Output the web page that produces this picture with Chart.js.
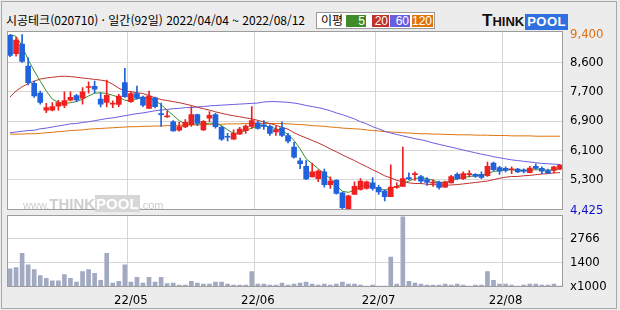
<!DOCTYPE html>
<html lang="ko">
<head>
<meta charset="utf-8">
<title>시공테크 일간 차트</title>
<script src="https://cdn.jsdelivr.net/npm/chart.js@4.4.0/dist/chart.umd.min.js"></script>
<style>
body { margin: 0; }
#wrap { position: relative; width: 620px; height: 310px; background: #ececec; overflow: hidden; font-family: "Noto Sans CJK KR", sans-serif; }
#frame { position: absolute; left: 1px; top: 1px; width: 614px; height: 306px; border: 1px solid #a8a8a8; }
#title { position: absolute; left: 6px; top: 11px; font-size: 12px; line-height: 18px; color: #000; white-space: nowrap; }
#legend { position: absolute; left: 316px; top: 12px; width: 117px; height: 15px; border: 1px solid #9a9a9a; background: #fff; }
#legend .lbl { position: absolute; left: 4px; top: -2px; font-size: 12px; line-height: 18px; }
#legend .ma { position: absolute; top: 2px; height: 12px; color: #fff; font: 12px/12px "Liberation Sans", sans-serif; text-align: right; padding-right: 1px; box-sizing: border-box; }
#logo { position: absolute; left: 482px; top: 12px; height: 17px; font-family: "Liberation Sans", sans-serif; font-weight: bold; white-space: nowrap; }
#logo .t { font-size: 17px; line-height: 17px; color: #111; }
#logo .h { font-size: 13px; line-height: 17px; color: #111; }
#logo .p { display: inline-block; background: #2f6fe0; color: #fff; font-size: 13px; line-height: 14px; padding: 1px 2px; margin-left: 1px; letter-spacing: 0.5px; }
#wm { position: absolute; left: 23px; top: 196px; color: #cdcdcd; font-family: "Liberation Sans", sans-serif; white-space: nowrap; line-height: 15px; }
#wm .s { font-size: 11px; }
#wm .b { font-size: 15px; font-weight: bold; }
#wm .p { font-size: 15px; font-weight: bold; color: #fff; background: #d6d6d6; padding: 0 1px; }
canvas { position: absolute; left: 0; }
#price { top: 0; }
#volume { top: 200px; }
</style>
</head>
<body>
<div id="wrap">
    <div id="frame"></div>
    <div id="title">시공테크(020710) · 일간(92일) 2022/04/04 ~ 2022/08/12</div>
    <div id="legend">
        <span class="lbl">이평</span>
        <span class="ma" style="left:29px;width:20px;background:#3d8c27;">5</span>
        <span class="ma" style="left:55px;width:17px;background:#c0322c;">20</span>
        <span class="ma" style="left:73px;width:20px;background:#6a5ee0;">60</span>
        <span class="ma" style="left:95px;width:21px;background:#e0740c;">120</span>
    </div>
    <div id="logo"><span class="t">T</span><span class="h">HINK</span><span class="p">POOL</span></div>
    <canvas id="price" width="620" height="225"></canvas>
    <canvas id="volume" width="620" height="110"></canvas>
    <div id="wm"><span class="s">www.</span><span class="b">THINK</span><span class="p">POOL</span><span class="s">.com</span></div>
</div>
<script>
"use strict";

// trading days 2022/04/04 ~ 2022/08/12
var dates = [
    '04/04', '04/05', '04/06', '04/07', '04/08', '04/11', '04/12', '04/13', '04/14', '04/15',
    '04/18', '04/19', '04/20', '04/21', '04/22', '04/25', '04/26', '04/27', '04/28', '04/29',
    '05/02', '05/03', '05/04', '05/06', '05/09', '05/10', '05/11', '05/12', '05/13', '05/16',
    '05/17', '05/18', '05/19', '05/20', '05/23', '05/24', '05/25', '05/26', '05/27', '05/30',
    '05/31', '06/02', '06/03', '06/07', '06/08', '06/09', '06/10', '06/13', '06/14', '06/15',
    '06/16', '06/17', '06/20', '06/21', '06/22', '06/23', '06/24', '06/27', '06/28', '06/29',
    '06/30', '07/01', '07/04', '07/05', '07/06', '07/07', '07/08', '07/11', '07/12', '07/13',
    '07/14', '07/15', '07/18', '07/19', '07/20', '07/21', '07/22', '07/25', '07/26', '07/27',
    '07/28', '07/29', '08/01', '08/02', '08/03', '08/04', '08/05', '08/08', '08/09', '08/10',
    '08/11', '08/12'
];

var opens = [
    9380, 8860, 9130, 8510, 8020, 7740, 7260, 7260, 7370, 7390,
    7540, 7670, 7600, 7900, 7930, 7570, 7480, 7430, 7420, 8040,
    7500, 7730, 7630, 7310, 7610, 7150, 7070, 6930, 6690, 6780,
    6850, 7130, 6700, 7030, 7130, 6770, 6510, 6440, 6580, 6680,
    6800, 6900, 6840, 6800, 6640, 6760, 6540, 6210, 5820, 5670,
    5370, 5320, 5510, 5150, 5270, 4920, 4450, 4870, 5010, 5040,
    5200, 5070, 4970, 4805, 5070, 5100, 5350, 5430, 5380, 5290,
    5190, 5220, 5080, 5200, 5440, 5320, 5430, 5440, 5440, 5400,
    5760, 5630, 5610, 5570, 5590, 5570, 5490, 5670, 5610, 5550,
    5550, 5590
];
var highs = [
    9400, 9320, 9400, 8740, 8080, 7800, 7450, 7470, 7540, 7780,
    7780, 7710, 7900, 8060, 8080, 7750, 8110, 7520, 7710, 8440,
    7780, 7940, 7660, 7800, 7630, 7460, 7240, 6960, 6910, 6990,
    7360, 7150, 6960, 7220, 7170, 6810, 6600, 6700, 6770, 6840,
    7360, 6940, 6960, 6840, 6800, 6930, 6600, 6350, 5900, 5830,
    5760, 5570, 5590, 5370, 5290, 4940, 4850, 5230, 5320, 5250,
    5350, 5130, 5010, 5710, 5200, 6210, 5480, 5510, 5410, 5350,
    5290, 5250, 5250, 5410, 5480, 5510, 5550, 5460, 5510, 5790,
    5790, 5670, 5650, 5650, 5610, 5600, 5670, 5740, 5650, 5590,
    5670, 5720
];
var lows = [
    8770, 8790, 8610, 7970, 7620, 7430, 7190, 7240, 7260, 7330,
    7520, 7500, 7430, 7740, 7740, 7350, 7350, 7330, 7360, 7620,
    7480, 7570, 7360, 7310, 7320, 6800, 7050, 6660, 6660, 6760,
    6800, 6820, 6680, 6930, 6750, 6400, 6390, 6430, 6570, 6600,
    6740, 6720, 6710, 6540, 6540, 6510, 6330, 5900, 5600, 5290,
    5370, 5230, 5080, 5040, 4880, 4455, 4425, 4870, 4990, 5020,
    4990, 4870, 4690, 4805, 5040, 5100, 5290, 5270, 5200, 5130,
    5100, 5020, 5070, 5200, 5290, 5290, 5370, 5350, 5320, 5380,
    5530, 5440, 5510, 5460, 5490, 5480, 5480, 5590, 5460, 5460,
    5480, 5570
];
var closes = [
    8810, 9240, 8640, 8040, 7660, 7480, 7330, 7360, 7470, 7530,
    7620, 7550, 7780, 7920, 7850, 7430, 7680, 7450, 7660, 7640,
    7730, 7600, 7400, 7660, 7360, 7130, 7100, 6670, 6790, 6910,
    7130, 6890, 6940, 7110, 6790, 6440, 6490, 6600, 6720, 6810,
    6960, 6740, 6800, 6600, 6710, 6540, 6380, 5930, 5740, 5310,
    5510, 5530, 5150, 5250, 4900, 4495, 4830, 5100, 5250, 5230,
    5040, 4940, 4805, 5080, 5100, 5320, 5310, 5460, 5250, 5210,
    5220, 5070, 5230, 5380, 5320, 5460, 5460, 5380, 5350, 5670,
    5570, 5530, 5550, 5600, 5510, 5520, 5620, 5610, 5530, 5480,
    5650, 5700
];

// moving averages as drawn (5, 20, 60, 120 days)
var ma5 = [
    9400, 9350, 9070, 8690, 8370, 8080, 7800, 7570, 7480, 7450,
    7470, 7500, 7570, 7660, 7740, 7750, 7730, 7680, 7620, 7540,
    7520, 7580, 7610, 7600, 7540, 7410, 7260, 7110, 6960, 6870,
    6850, 6870, 6870, 6890, 6890, 6820, 6700, 6600, 6620, 6680,
    6750, 6810, 6820, 6790, 6730, 6680, 6570, 6400, 6160, 5880,
    5740, 5600, 5460, 5320, 5130, 4960, 4930, 4990, 5100, 5130,
    5080, 5040, 4990, 5040, 5100, 5180, 5250, 5320, 5350, 5320,
    5270, 5210, 5210, 5250, 5320, 5350, 5380, 5400, 5420, 5460,
    5520, 5550, 5570, 5570, 5550, 5550, 5560, 5570, 5570, 5560,
    5570, 5600
];
var ma20 = [
    7630, 7800, 7920, 8010, 8080, 8140, 8170, 8190, 8210, 8220,
    8210, 8190, 8170, 8150, 8130, 8110, 8080, 7990, 7880, 7800,
    7780, 7750, 7730, 7670, 7610, 7560, 7530, 7500, 7470, 7430,
    7390, 7340, 7300, 7260, 7210, 7170, 7130, 7100, 7070, 7040,
    7010, 6970, 6920, 6880, 6830, 6770, 6720, 6620, 6540, 6470,
    6400, 6330, 6250, 6160, 6080, 5990, 5910, 5830, 5740, 5660,
    5570, 5490, 5400, 5340, 5270, 5230, 5200, 5180, 5180, 5160,
    5150, 5140, 5130, 5140, 5150, 5170, 5190, 5210, 5230, 5250,
    5290, 5330, 5360, 5380, 5380, 5400, 5410, 5430, 5450, 5460,
    5480, 5490
];
var ma60 = [
    6620, 6640, 6660, 6680, 6690, 6730, 6750, 6780, 6810, 6840,
    6870, 6880, 6910, 6930, 6960, 6990, 7020, 7040, 7070, 7100,
    7130, 7160, 7180, 7210, 7240, 7260, 7280, 7300, 7310, 7330,
    7330, 7350, 7360, 7380, 7390, 7400, 7410, 7420, 7430, 7440,
    7450, 7460, 7490, 7500, 7500, 7490, 7480, 7460, 7430, 7390,
    7360, 7330, 7290, 7240, 7180, 7130, 7070, 7010, 6930, 6870,
    6790, 6730, 6660, 6610, 6570, 6530, 6490, 6450, 6420, 6380,
    6330, 6290, 6250, 6210, 6170, 6130, 6090, 6050, 6010, 5980,
    5940, 5910, 5880, 5850, 5830, 5810, 5790, 5770, 5750, 5740,
    5730, 5720
];
var ma120 = [
    6580, 6580, 6580, 6590, 6590, 6600, 6620, 6630, 6650, 6660,
    6680, 6690, 6700, 6720, 6730, 6740, 6750, 6760, 6770, 6780,
    6790, 6790, 6800, 6800, 6810, 6810, 6820, 6820, 6830, 6830,
    6840, 6840, 6850, 6850, 6860, 6860, 6870, 6870, 6870, 6880,
    6880, 6880, 6880, 6880, 6880, 6880, 6870, 6860, 6850, 6840,
    6820, 6810, 6800, 6780, 6770, 6750, 6740, 6730, 6720, 6700,
    6680, 6670, 6650, 6640, 6630, 6620, 6610, 6600, 6590, 6590,
    6580, 6580, 6570, 6570, 6560, 6560, 6560, 6550, 6550, 6550,
    6540, 6540, 6540, 6530, 6530, 6530, 6530, 6520, 6520, 6520,
    6520, 6520
];

// volume, x1000 shares
var volumes = [
    1050, 1110, 1940, 1270, 1000, 660, 500, 350, 350, 720,
    500, 280, 885, 1000, 790, 390, 1940, 220, 330, 1270,
    280, 550, 220, 550, 280, 550, 200, 220, 110, 110,
    330, 220, 170, 170, 280, 280, 170, 110, 110, 110,
    885, 170, 170, 110, 110, 220, 110, 170, 220, 280,
    170, 110, 170, 110, 170, 280, 170, 170, 110, 55,
    110, 55, 55, 1715, 170, 4040, 330, 220, 170, 110,
    110, 110, 170, 110, 170, 110, 55, 110, 110, 885,
    390, 170, 170, 110, 55, 110, 170, 170, 110, 110,
    170, 55
];

var priceTicks = [4425, 5300, 6125, 6950, 7775, 8600, 9400];
var priceTickLabels = ['4,425', '5,300', '6,100', '6,900', '7,700', '8,600', '9,400'];
var volTicks = [0, 1400, 2766];
var volTickLabels = ['x1000', '1400', '2766'];

var UP = '#ee2020';
var DOWN = '#1f62dc';
var GRID = '#d6d6d6';
var AXIS_FONT = {family: '"Liberation Sans Narrow", "DejaVu Sans Condensed", sans-serif', size: 13};

var isMonthStart = function (i) {
    return typeof i === 'number' && i > 0 && i < dates.length &&
        dates[i].slice(0, 2) !== dates[i - 1].slice(0, 2);
};

var candleColors = closes.map(function (c, i) {
    return c >= opens[i] ? UP : DOWN;
});

// white plot area with grey frame, like the original
var plotFrame = {
    id: 'plotFrame',
    beforeDraw: function (chart) {
        var a = chart.chartArea;
        var ctx = chart.ctx;
        ctx.save();
        ctx.fillStyle = '#ffffff';
        ctx.fillRect(a.left, a.top, a.right - a.left, a.bottom - a.top);
        ctx.restore();
    },
    afterDraw: function (chart) {
        var a = chart.chartArea;
        var ctx = chart.ctx;
        ctx.save();
        ctx.strokeStyle = '#9c9c9c';
        ctx.lineWidth = 1;
        ctx.strokeRect(Math.round(a.left) + 0.5, Math.round(a.top) + 0.5,
            Math.round(a.right - a.left) - 1, Math.round(a.bottom - a.top) - 1);
        ctx.restore();
    }
};

var xAxis = function (showLabels) {
    return {
        type: 'category',
        offset: true,
        grid: {
            offset: true,
            drawTicks: false,
            color: function (ctx) {
                return isMonthStart(ctx.index) ? GRID : 'rgba(0,0,0,0)';
            }
        },
        border: {display: false},
        ticks: {
            display: showLabels,
            autoSkip: false,
            maxRotation: 0,
            minRotation: 0,
            padding: 6,
            color: '#000',
            font: AXIS_FONT,
            callback: function (value, index) {
                return isMonthStart(index) ? '22/' + dates[index].slice(0, 2) : '';
            }
        },
        afterFit: function (scale) {
            scale.height = showLabels ? 23 : 0;
        }
    };
};

var yAxis = function (min, max, tickValues, tickLabels, extra) {
    return {
        position: 'right',
        min: min,
        max: max,
        afterBuildTicks: function (scale) {
            scale.ticks = tickValues.map(function (v) { return {value: v}; });
        },
        grid: {
            drawTicks: false,
            color: function (ctx) {
                return extra.hideGrid(ctx.index) ? 'rgba(0,0,0,0)' : GRID;
            }
        },
        border: {display: false},
        ticks: {
            padding: 7,
            font: AXIS_FONT,
            color: extra.tickColor,
            callback: function (value, index) {
                return tickLabels[index];
            }
        },
        afterFit: function (scale) {
            scale.width = 57;
        }
    };
};

new Chart(document.getElementById('price'), {
    type: 'bar',
    data: {
        labels: dates,
        datasets: [{
            label: 'body',
            data: opens.map(function (o, i) { return [o, closes[i]]; }),
            backgroundColor: candleColors,
            barThickness: 5,
            minBarLength: 1,
            grouped: false,
            order: 0
        }, {
            label: 'wick',
            data: lows.map(function (l, i) { return [l, highs[i]]; }),
            backgroundColor: candleColors,
            barThickness: 1,
            grouped: false,
            order: 1
        }, {
            type: 'line',
            label: '5',
            data: ma5,
            borderColor: '#3d8c27',
            borderWidth: 1,
            pointRadius: 0,
            order: 2
        }, {
            type: 'line',
            label: '20',
            data: ma20,
            borderColor: '#c0322c',
            borderWidth: 1,
            pointRadius: 0,
            order: 3
        }, {
            type: 'line',
            label: '60',
            data: ma60,
            borderColor: '#6a5ee0',
            borderWidth: 1,
            pointRadius: 0,
            order: 4
        }, {
            type: 'line',
            label: '120',
            data: ma120,
            borderColor: '#e0740c',
            borderWidth: 1,
            pointRadius: 0,
            order: 5
        }]
    },
    options: {
        responsive: false,
        animation: false,
        layout: {padding: {left: 7, top: 31, right: 0, bottom: 13}, autoPadding: false},
        plugins: {legend: {display: false}, tooltip: {enabled: false}},
        scales: {
            x: xAxis(false),
            y: yAxis(4425, 9500, priceTicks, priceTickLabels, {
                hideGrid: function (i) { return i === 0 || i === priceTicks.length - 1; },
                tickColor: function (ctx) {
                    if (ctx.index === 0) { return '#1010d0'; }
                    if (ctx.index === priceTicks.length - 1) { return '#e07010'; }
                    return '#000';
                }
            })
        }
    },
    plugins: [plotFrame]
});

new Chart(document.getElementById('volume'), {
    type: 'bar',
    data: {
        labels: dates,
        datasets: [{
            label: 'volume',
            data: volumes,
            backgroundColor: '#a2aac2',
            barThickness: 4,
            grouped: false
        }]
    },
    options: {
        responsive: false,
        animation: false,
        layout: {padding: {left: 7, top: 12, right: 0, bottom: 0}, autoPadding: false},
        plugins: {legend: {display: false}, tooltip: {enabled: false}},
        scales: {
            x: xAxis(true),
            y: yAxis(0, 4150, volTicks, volTickLabels, {
                hideGrid: function (i) { return i === 0; },
                tickColor: '#000'
            })
        }
    },
    plugins: [plotFrame]
});
</script>
</body>
</html>
